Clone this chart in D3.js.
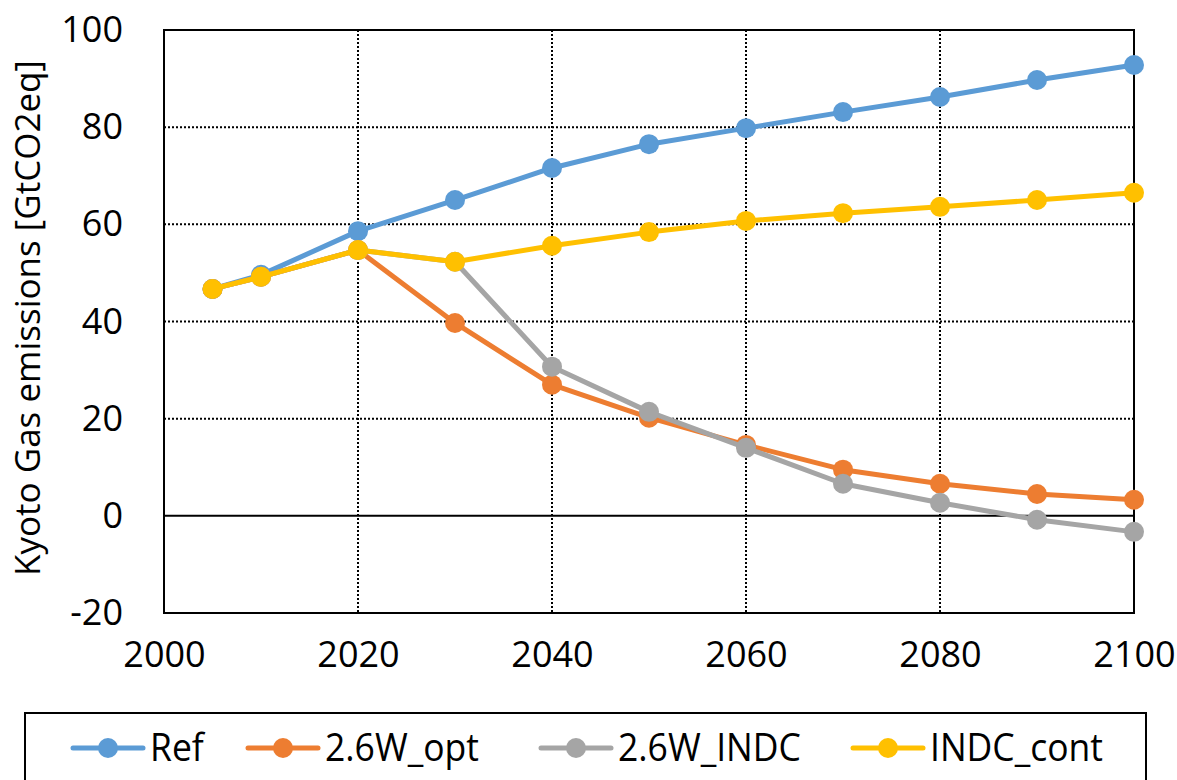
<!DOCTYPE html>
<html>
<head>
<meta charset="utf-8">
<script src="https://cdn.jsdelivr.net/npm/d3@7"></script>
<style>
	body { margin: 0; background: #fff; }
	svg { display: block; }
</style>
</head>
<body>
<div class="kyoto-chart"></div>
<script>
// data
const years = [2005, 2010, 2020, 2030, 2040, 2050, 2060, 2070, 2080, 2090, 2100];
const ref = [46.7, 49.6, 58.6, 65.0, 71.6, 76.5, 79.8, 83.1, 86.2, 89.7, 92.8];
const opt26 = [46.7, 49.2, 54.7, 39.7, 27.0, 20.2, 14.6, 9.5, 6.6, 4.5, 3.3];
const indc26 = [46.7, 49.2, 54.7, 52.3, 30.7, 21.4, 14.0, 6.6, 2.7, -0.8, -3.3];
const indcCont = [46.7, 49.2, 54.7, 52.3, 55.6, 58.4, 60.7, 62.3, 63.6, 65.0, 66.5];
const seriesNames = ['Ref', '2.6W_opt', '2.6W_INDC', 'INDC_cont'];
const seriesColors = ['#5B9BD5', '#ED7D31', '#A5A5A5', '#FFC000'];
const xTicks = [2000, 2020, 2040, 2060, 2080, 2100];
const yTicks = [-20, 0, 20, 40, 60, 80, 100];

const allSeries = [ref, opt26, indc26, indcCont];

let width = 1177, height = 780;
let margin = { top: 30, right: 43, bottom: 167, left: 164 };
let w = width - margin.left - margin.right,
	h = height - margin.top - margin.bottom;
let font = "'Open Sans', 'Noto Sans', sans-serif";

let svg = d3.select('.kyoto-chart').append('svg')
	.attr('width', width)
	.attr('height', height);

let x = d3.scaleLinear().domain([2000, 2100]).range([0, w]);
let y = d3.scaleLinear().domain([-20, 100]).range([h, 0]);

let g = svg.append('g').attr('transform', 'translate(' + margin.left + ',' + margin.top + ')');

// dotted grid
g.append('g').selectAll('line')
	.data(yTicks.filter(d => d > 0 && d < 100))
	.enter().append('line')
	.attr('x1', 0).attr('x2', w)
	.attr('y1', d => y(d)).attr('y2', d => y(d))
	.attr('stroke', '#000').attr('stroke-width', 2)
	.attr('stroke-dasharray', '2,2');
g.append('g').selectAll('line')
	.data(xTicks.filter(d => d > 2000 && d < 2100))
	.enter().append('line')
	.attr('y1', 0).attr('y2', h)
	.attr('x1', d => x(d)).attr('x2', d => x(d))
	.attr('stroke', '#000').attr('stroke-width', 2)
	.attr('stroke-dasharray', '2,2');

// zero line
g.append('line')
	.attr('x1', 0).attr('x2', w)
	.attr('y1', y(0)).attr('y2', y(0))
	.attr('stroke', '#000').attr('stroke-width', 2);

// plot border
g.append('rect')
	.attr('width', w).attr('height', h)
	.attr('fill', 'none').attr('stroke', '#000').attr('stroke-width', 2);

// axes (labels only)
let yAxis = g.append('g')
	.call(d3.axisLeft(y).tickValues(yTicks).tickFormat(d => String(d)).tickSize(0).tickPadding(41));
let xAxis = g.append('g')
	.attr('transform', 'translate(0,' + h + ')')
	.call(d3.axisBottom(x).tickValues(xTicks).tickFormat(d => String(d)).tickSize(0).tickPadding(28));
[xAxis, yAxis].forEach(a => {
	a.select('.domain').remove();
	a.selectAll('text')
		.attr('font-family', font)
		.attr('font-size', 36)
		.attr('fill', '#000');
});

// y title
svg.append('text')
	.attr('transform', 'translate(40,318) rotate(-90)')
	.attr('text-anchor', 'middle')
	.attr('font-family', font)
	.attr('font-size', 35)
	.attr('fill', '#000')
	.text('Kyoto Gas emissions [GtCO2eq]');

// lines and markers
let line = d3.line()
	.x((d, i) => x(years[i]))
	.y(d => y(d));

allSeries.forEach((s, k) => {
	let sg = g.append('g');
	sg.append('path')
		.datum(s)
		.attr('fill', 'none')
		.attr('stroke', seriesColors[k])
		.attr('stroke-width', 5)
		.attr('stroke-linejoin', 'round')
		.attr('d', line);
	sg.selectAll('circle')
		.data(s)
		.enter().append('circle')
		.attr('cx', (d, i) => x(years[i]))
		.attr('cy', d => y(d))
		.attr('r', 10)
		.attr('fill', seriesColors[k]);
});

// legend
let lg = svg.append('g');
lg.append('rect')
	.attr('x', 25).attr('y', 713)
	.attr('width', 1121).attr('height', 90)
	.attr('fill', '#fff').attr('stroke', '#000').attr('stroke-width', 2);
let legendX = [73, 248, 541, 853];
seriesNames.forEach((name, k) => {
	let item = lg.append('g').attr('transform', 'translate(' + legendX[k] + ',748)');
	item.append('line')
		.attr('x1', 0).attr('x2', 70)
		.attr('stroke', seriesColors[k]).attr('stroke-width', 5)
		.attr('stroke-linecap', 'round');
	item.append('circle')
		.attr('cx', 35).attr('r', 10)
		.attr('fill', seriesColors[k]);
	item.append('text')
		.attr('transform', 'translate(77,13) scale(0.91,1)')
		.attr('font-family', font)
		.attr('font-size', 39)
		.attr('fill', '#000')
		.text(name);
});
</script>
</body>
</html>
